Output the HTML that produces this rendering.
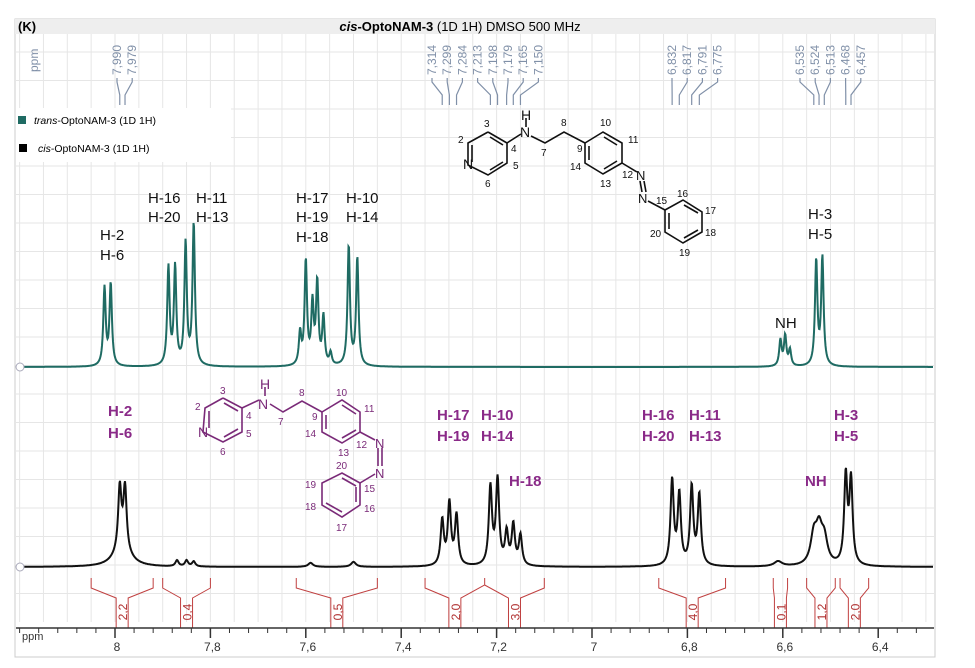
<!DOCTYPE html>
<html><head><meta charset="utf-8"><style>
body{margin:0;background:#fff;font-family:"Liberation Sans",sans-serif}
svg text{font-family:"Liberation Sans",sans-serif}
</style></head><body>
<svg id="chart" width="975" height="663" viewBox="0 0 975 663" xmlns="http://www.w3.org/2000/svg">
<rect width="975" height="663" fill="#fff"/>
<g id="grid"></g>
<rect x="15" y="19" width="920" height="638" fill="none" stroke="#ccc"/>
<rect x="15" y="19" width="920" height="15" fill="#eee"/>
<text x="18" y="31" font-size="13" font-weight="bold">(K)</text>
<text x="460" y="31" font-size="13" text-anchor="middle"><tspan font-weight="bold" font-style="italic">cis</tspan><tspan font-weight="bold">-OptoNAM-3</tspan> (1D 1H) DMSO 500 MHz</text>
<text transform="translate(38,72) rotate(-90)" font-size="12" fill="#8090a8">ppm</text>
<g id="peaklabels"></g>
<g>
<rect x="16" y="108" width="215" height="54" fill="#fff"/>
<rect x="18" y="116" width="8" height="8" fill="#1f6b63"/>
<text x="34" y="124" font-size="10.5"><tspan font-style="italic">trans</tspan>-OptoNAM-3  (1D 1H)</text>
<rect x="19" y="144" width="8" height="8" fill="#000"/>
<text x="38" y="152" font-size="10.5"><tspan font-style="italic">cis</tspan>-OptoNAM-3  (1D 1H)</text>
</g>
<g id="spectra"></g>
<circle cx="20" cy="367" r="4" fill="#fff" stroke="#aab"/>
<circle cx="20" cy="567" r="4" fill="#fff" stroke="#aab"/>
<g id="integrals"></g>
<g id="axis"></g>
<g font-size="15" fill="#111">
<text x="100" y="240">H-2</text><text x="100" y="260">H-6</text>
<text x="148" y="203">H-16</text><text x="148" y="222">H-20</text>
<text x="196" y="203">H-11</text><text x="196" y="222">H-13</text>
<text x="296" y="203">H-17</text><text x="296" y="222">H-19</text><text x="296" y="242">H-18</text>
<text x="346" y="203">H-10</text><text x="346" y="222">H-14</text>
<text x="775" y="328">NH</text>
<text x="808" y="219">H-3</text><text x="808" y="239">H-5</text>
</g>
<g font-size="15" font-weight="bold" fill="#8a2a88">
<text x="108" y="416">H-2</text><text x="108" y="438">H-6</text>
<text x="437" y="420">H-17</text><text x="437" y="441">H-19</text>
<text x="481" y="420">H-10</text><text x="481" y="441">H-14</text>
<text x="509" y="486">H-18</text>
<text x="642" y="420">H-16</text><text x="642" y="441">H-20</text>
<text x="689" y="420">H-11</text><text x="689" y="441">H-13</text>
<text x="805" y="486">NH</text>
<text x="834" y="420">H-3</text><text x="834" y="441">H-5</text>
</g>
<g stroke="#111" stroke-width="1.6" fill="none">
<polyline points="488,132 507,143 507,163 488,175 468,165 468,143 488,132"/>
<line x1="490" y1="137" x2="503" y2="145"/><line x1="490" y1="170" x2="503" y2="162"/><line x1="472" y1="145" x2="472" y2="162"/>
<polyline points="507,143 521,134"/><polyline points="531,136 545,143 564,132 585,143"/>
<line x1="526" y1="118" x2="526" y2="127"/>
<polyline points="585,143 603,132 622,143 622,163 603,174 585,163 585,143"/>
<line x1="604" y1="137" x2="617" y2="145"/><line x1="604" y1="169" x2="617" y2="161"/><line x1="589" y1="146" x2="589" y2="160"/>
<line x1="622" y1="163" x2="637" y2="172"/><line x1="640" y1="181" x2="642" y2="192"/><line x1="644" y1="181" x2="646" y2="192"/>
<line x1="648" y1="201" x2="665" y2="210"/>
<polyline points="665,210 683,200 702,212 702,232 683,243 665,232 665,210"/>
<line x1="684" y1="205" x2="698" y2="213"/><line x1="684" y1="238" x2="698" y2="230"/><line x1="669" y1="213" x2="669" y2="229"/>
</g>
<g font-size="10" fill="#111">
<text x="463" y="169" font-size="14">N</text><text x="520" y="137" font-size="14">N</text><text x="521" y="120" font-size="14">H</text>
<text x="636" y="180" font-size="13">N</text><text x="638" y="203" font-size="13">N</text>
<text x="484" y="127">3</text><text x="458" y="143">2</text><text x="511" y="152">4</text><text x="513" y="169">5</text><text x="485" y="187">6</text>
<text x="541" y="156">7</text><text x="561" y="126">8</text><text x="577" y="152">9</text><text x="600" y="126">10</text><text x="628" y="143">11</text>
<text x="622" y="178">12</text><text x="600" y="187">13</text><text x="570" y="170">14</text><text x="656" y="204">15</text><text x="677" y="197">16</text>
<text x="705" y="214">17</text><text x="705" y="236">18</text><text x="679" y="256">19</text><text x="650" y="237">20</text>
</g>
<g stroke="#7a2a78" stroke-width="1.6" fill="none">
<polyline points="223,398 242,408 242,432 223,442 203,432 205,408 223,398"/>
<line x1="224" y1="403" x2="238" y2="411"/><line x1="224" y1="437" x2="238" y2="429"/><line x1="209" y1="411" x2="209" y2="428"/>
<line x1="242" y1="408" x2="259" y2="400"/><polyline points="270,404 283,412 302,401 322,412"/>
<line x1="265" y1="387" x2="265" y2="396"/>
<polyline points="322,412 342,400 360,412 360,432 342,443 322,432 322,412"/>
<line x1="342" y1="405" x2="356" y2="414"/><line x1="342" y1="438" x2="356" y2="430"/><line x1="326" y1="415" x2="326" y2="429"/>
<line x1="360" y1="432" x2="375" y2="440"/><line x1="378" y1="448" x2="378" y2="466"/><line x1="382" y1="448" x2="382" y2="466"/>
<line x1="375" y1="474" x2="360" y2="483"/>
<polyline points="360,483 360,505 342,517 322,505 322,483 342,473 360,483"/>
<line x1="342" y1="478" x2="356" y2="486"/><line x1="342" y1="512" x2="326" y2="503"/><line x1="356" y1="487" x2="356" y2="502"/>
</g>
<g font-size="10" fill="#7a2a78">
<text x="198" y="437" font-size="14">N</text><text x="258" y="409" font-size="14">N</text><text x="260" y="389" font-size="14">H</text>
<text x="375" y="448" font-size="13">N</text><text x="375" y="478" font-size="13">N</text>
<text x="220" y="394">3</text><text x="195" y="410">2</text><text x="246" y="419">4</text><text x="246" y="437">5</text><text x="220" y="455">6</text>
<text x="278" y="425">7</text><text x="299" y="396">8</text><text x="312" y="420">9</text><text x="336" y="396">10</text><text x="364" y="412">11</text>
<text x="356" y="448">12</text><text x="338" y="456">13</text><text x="305" y="437">14</text><text x="364" y="492">15</text><text x="364" y="512">16</text>
<text x="336" y="531">17</text><text x="305" y="510">18</text><text x="305" y="488">19</text><text x="336" y="469">20</text>
</g>
</svg>
<script>
const NS="http://www.w3.org/2000/svg";
// axis
const xTicks=[8,7.8,7.6,7.4,7.2,7,6.8,6.6,6.4];
const xTickLabels=["8","7,8","7,6","7,4","7,2","7","6,8","6,6","6,4"];
// trans spectrum peaks (ppm, height px)
const transPpm=[8.022,8.009,7.888,7.874,7.852,7.835,7.612,7.600,7.586,7.576,7.563,7.548,7.510,7.492,6.605,6.595,6.585,6.530,6.517];
const transHeight=[78,82,98,98,122,142,32,104,60,82,48,12,120,108,26,30,16,105,108];
// cis spectrum peaks
const cisPpm=[7.990,7.979,7.985,7.87,7.85,7.835,7.59,7.50,7.314,7.299,7.284,7.213,7.198,7.179,7.165,7.150,6.832,6.817,6.791,6.775,6.61,6.535,6.524,6.513,6.468,6.457];
const cisHeight=[62,62,18,6,6,5,4,5,45,62,50,78,85,32,40,30,85,70,78,70,5,28,32,24,88,84];
const cisWidth=[0.004,0.004,0.02,0.004,0.004,0.004,0.006,0.006,0.004,0.004,0.004,0.004,0.004,0.004,0.004,0.004,0.004,0.004,0.004,0.004,0.01,0.008,0.008,0.008,0.004,0.004];
// peak pick labels
const topGroups=[[7.990,7.979],[7.314,7.299,7.284,7.213,7.198,7.179,7.165,7.150],[6.832,6.817,6.791,6.775],[6.535,6.524,6.513,6.468,6.457]];
const topGroupStart=[117,432,672,800];
// integrals: [from ppm, to ppm, value]
const intFrom=[8.05,7.90,7.62,7.35,6.86,6.62,6.55,6.48];
const intTo=[7.92,7.80,7.45,7.10,6.72,6.59,6.49,6.42];
const intLabel=["2,2","0,4","0,5","2,0|3,0","4,0","0,1","1,2","2,0"];

const X=p=>115+(8-p)*477;
const svg=document.getElementById('chart');
function mk(tag,attrs,parent){const e=document.createElementNS(NS,tag);for(const k in attrs)e.setAttribute(k,attrs[k]);parent.appendChild(e);return e;}
// grid
const grid=document.getElementById('grid');
for(let p=8.2;p>=6.28;p-=0.05){const x=X(p);if(x<16||x>934)continue;
 const l=mk('line',{x1:x,y1:34,x2:x,y2:622,stroke:'#e6e6e6','stroke-width':1},grid);
 
 }
for(let y=52;y<622;y+=28.5){const l=mk('line',{x1:16,y1:y,x2:934,y2:y,stroke:'#e6e6e6'},grid);
 
 }
// spectra
function spectrum(ppm,h,w,base,color,name){let d='';for(let x=18;x<=933;x+=0.5){const p=8-(x-115)/477;let s=0;
 for(let i=0;i<ppm.length;i++){const g=w[i]||w;const t=(p-ppm[i])/g;s+=h[i]/(1+t*t);}d+=(d?'L':'M')+x.toFixed(1)+','+(base-s).toFixed(1);}
 const pa=mk('path',{d:d,fill:'none',stroke:color,'stroke-width':2},document.getElementById('spectra'));
 
 }
spectrum(transPpm,transHeight,transPpm.map(()=>0.003),367,'#1f6b63','trans-spectrum');
spectrum(cisPpm,cisHeight,cisWidth,567,'#111','cis-spectrum');
// peak labels at top
const pl=document.getElementById('peaklabels');
topGroups.forEach((g,gi)=>{g.forEach((p,i)=>{const lx=topGroupStart[gi]+i*15.2;
 const t=mk('text',{transform:`translate(${lx+4},75) rotate(-90)`,'font-size':12,fill:'#8090a8'},pl);t.textContent=p.toFixed(3).replace('.',',');
 
 
 const px=X(p);const ln=mk('polyline',{points:`${lx},78 ${lx},82 ${px},95 ${px},105`,fill:'none',stroke:'#8090a8','stroke-width':1.2},pl);
 
 });});
// integrals
const ig=document.getElementById('integrals');
intFrom.forEach((a,i)=>{const x1=X(a),x2=X(intTo[i]);const parts=intLabel[i].split('|');
 let d;
 if(parts.length==1){const m=(x1+x2)/2;d=`M${x1},578 L${x1},588 L${m-6},598 L${m-6},628 M${x2},578 L${x2},588 L${m+6},598 L${m+6},628`;
  const t=mk('text',{transform:`translate(${m+5},612) rotate(-90)`,'font-size':12,fill:'#b03030','text-anchor':'middle'},ig);t.textContent=parts[0];
  
  }
 else{const m=(x1+x2)/2,a1=x1+(m-x1)*0.5,a2=m+(x2-m)*0.5;
  d=`M${x1},578 L${x1},588 L${a1-6},598 L${a1-6},628 M${m},578 L${m},585 L${a1+6},598 L${a1+6},628 M${m},585 L${a2-6},598 L${a2-6},628 M${x2},578 L${x2},588 L${a2+6},598 L${a2+6},628`;
  [a1,a2].forEach((c,k)=>{const t=mk('text',{transform:`translate(${c+5},612) rotate(-90)`,'font-size':12,fill:'#b03030','text-anchor':'middle'},ig);t.textContent=parts[k];
  
  });}
 const pa=mk('path',{d:d,fill:'none',stroke:'#c04040','stroke-width':1},ig);
 
 });
// axis
const ax=document.getElementById('axis');
const al=mk('line',{x1:16,y1:628,x2:934,y2:628,stroke:'#333','stroke-width':1.5},ax);


for(let p=8.2;p>=6.28;p-=0.04){const x=X(p);if(x<16||x>934)continue;const tk=mk('line',{x1:x,y1:628,x2:x,y2:633,stroke:'#333'},ax);
 
 }
xTicks.forEach((p,i)=>{const x=X(p);const tk=mk('line',{x1:x,y1:628,x2:x,y2:638,stroke:'#333','stroke-width':1.5},ax);
 
 
 const t=mk('text',{x:x+2,y:651,'font-size':12,fill:'#333','text-anchor':'middle'},ax);t.textContent=xTickLabels[i];
 
 });
const pt=mk('text',{x:22,y:640,'font-size':11,fill:'#333'},ax);pt.textContent='ppm';


</script>
</body></html>
